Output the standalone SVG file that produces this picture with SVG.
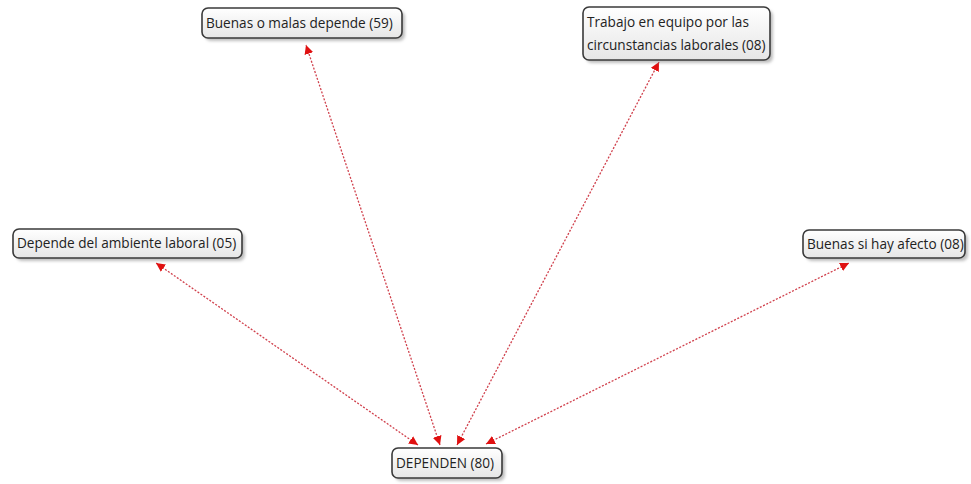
<svg xmlns="http://www.w3.org/2000/svg" width="971" height="484" viewBox="0 0 971 484">
<style>
.box{fill:url(#g);stroke:#3a3a3a;stroke-width:1.6}
.sh{fill:#8a8a8a;opacity:.55;filter:url(#blur)}
.t{font-family:"Open Sans","Liberation Sans",sans-serif;font-size:13.6px;fill:#222}
.c{fill:none;stroke:#d0404c;stroke-width:1.3;stroke-dasharray:2 1.6;marker-start:url(#a);marker-end:url(#a)}
</style>
<defs>
<linearGradient id="g" x1="0" y1="0" x2="0" y2="1"><stop offset="0" stop-color="#ffffff"/><stop offset="1" stop-color="#e6e6e6"/></linearGradient>
<filter id="blur" x="-10%" y="-30%" width="120%" height="160%"><feGaussianBlur stdDeviation="1.5"/></filter>
<marker id="a" viewBox="0 0 10 10" refX="10" refY="5" markerWidth="9" markerHeight="9" markerUnits="userSpaceOnUse" orient="auto-start-reverse"><path d="M0,0 L10,5 L0,10 z" fill="#e01010"/></marker>
</defs>
<rect width="971" height="484" fill="#ffffff"/>
<g id="connectors">
<line class="c" x1="440" y1="445" x2="306" y2="45"/>
<line class="c" x1="457" y1="445" x2="659" y2="62"/>
<line class="c" x1="418" y1="445" x2="156" y2="263"/>
<line class="c" x1="486" y1="444" x2="849" y2="263"/>
</g>
<g id="n1">
<rect class="sh" x="205" y="11" width="200" height="30" rx="6"/>
<rect class="box" x="202" y="8" width="200" height="30" rx="6"/>
<text class="t" x="206" y="28">Buenas o malas depende (59)</text>
</g>
<g id="n2">
<rect class="sh" x="586" y="10" width="187" height="53" rx="6"/>
<rect class="box" x="583" y="7" width="187" height="53" rx="6"/>
<text class="t" x="587" y="27">Trabajo en equipo por las</text>
<text class="t" x="587" y="50">circunstancias laborales (08)</text>
</g>
<g id="n3">
<rect class="sh" x="16" y="232" width="229" height="29" rx="6"/>
<rect class="box" x="13" y="229" width="229" height="29" rx="6"/>
<text class="t" x="17" y="248">Depende del ambiente laboral (05)</text>
</g>
<g id="n4">
<rect class="sh" x="806" y="233" width="162" height="28" rx="6"/>
<rect class="box" x="803" y="230" width="162" height="28" rx="6"/>
<text class="t" x="807" y="249">Buenas si hay afecto (08)</text>
</g>
<g id="n5">
<rect class="sh" x="395" y="451" width="110" height="30" rx="6"/>
<rect class="box" x="392" y="448" width="110" height="30" rx="6"/>
<text class="t" x="396" y="468">DEPENDEN (80)</text>
</g>
</svg>
